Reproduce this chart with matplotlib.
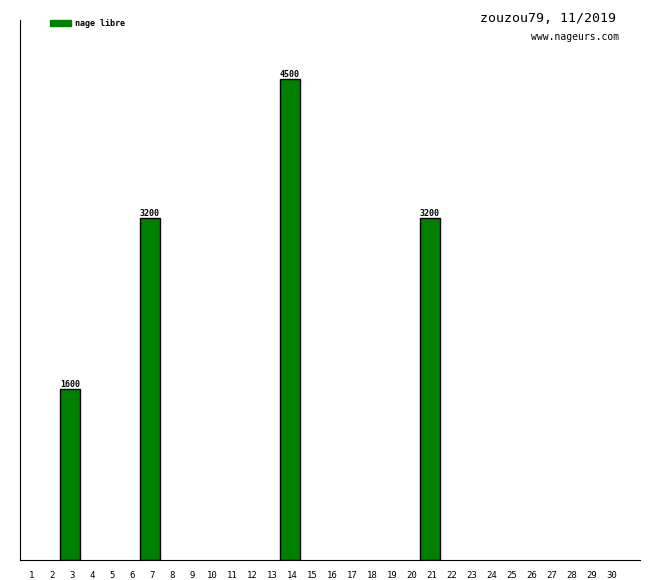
import matplotlib.pyplot as plt
import matplotlib.transforms as mtransforms
from matplotlib.patches import Rectangle

days = list(range(1, 31))
swim_days = [3, 7, 14, 21]
swim_values = [1600, 3200, 4500, 3200]

mono = 'DejaVu Sans Mono'

fig = plt.figure(figsize=(6.6, 5.8), dpi=100)
ax = fig.add_axes([20 / 660, 20 / 580, 620 / 660, 540 / 580])

ax.bar(swim_days, swim_values, width=1.0, color='#008000',
       edgecolor='black', linewidth=1)
for d, v in zip(swim_days, swim_values):
    ax.text(d, v, str(v), ha='center', va='bottom',
            fontsize=6, family=mono, fontweight='bold')

ax.set_xlim(0.5, 31.5)
ax.set_ylim(0, 5050)
ax.spines['top'].set_visible(False)
ax.spines['right'].set_visible(False)
ax.set_yticks([])
ax.set_xticks(days)
ax.set_xticklabels([str(d) for d in days], family=mono, fontsize=6.5)
ax.tick_params(axis='x', length=0, pad=8)
shift = mtransforms.ScaledTranslation(2 / 100, 0, fig.dpi_scale_trans)
for lab in ax.get_xticklabels():
    lab.set_transform(lab.get_transform() + shift)

# legend
fig.patches.append(Rectangle((50 / 660, 1 - 26 / 580), 21 / 660, 6 / 580,
                             transform=fig.transFigure, color='#008000'))
fig.text(75 / 660, 1 - 23 / 580, 'nage libre', family=mono, fontsize=6,
         fontweight='bold', va='center', ha='left')

fig.text(616 / 660, 1 - 18 / 580, 'zouzou79, 11/2019', family=mono,
         fontsize=9.5, ha='right', va='center')
fig.text(619 / 660, 1 - 37 / 580, 'www.nageurs.com', family=mono,
         fontsize=7, ha='right', va='center')

fig.savefig('out.png', dpi=100)
